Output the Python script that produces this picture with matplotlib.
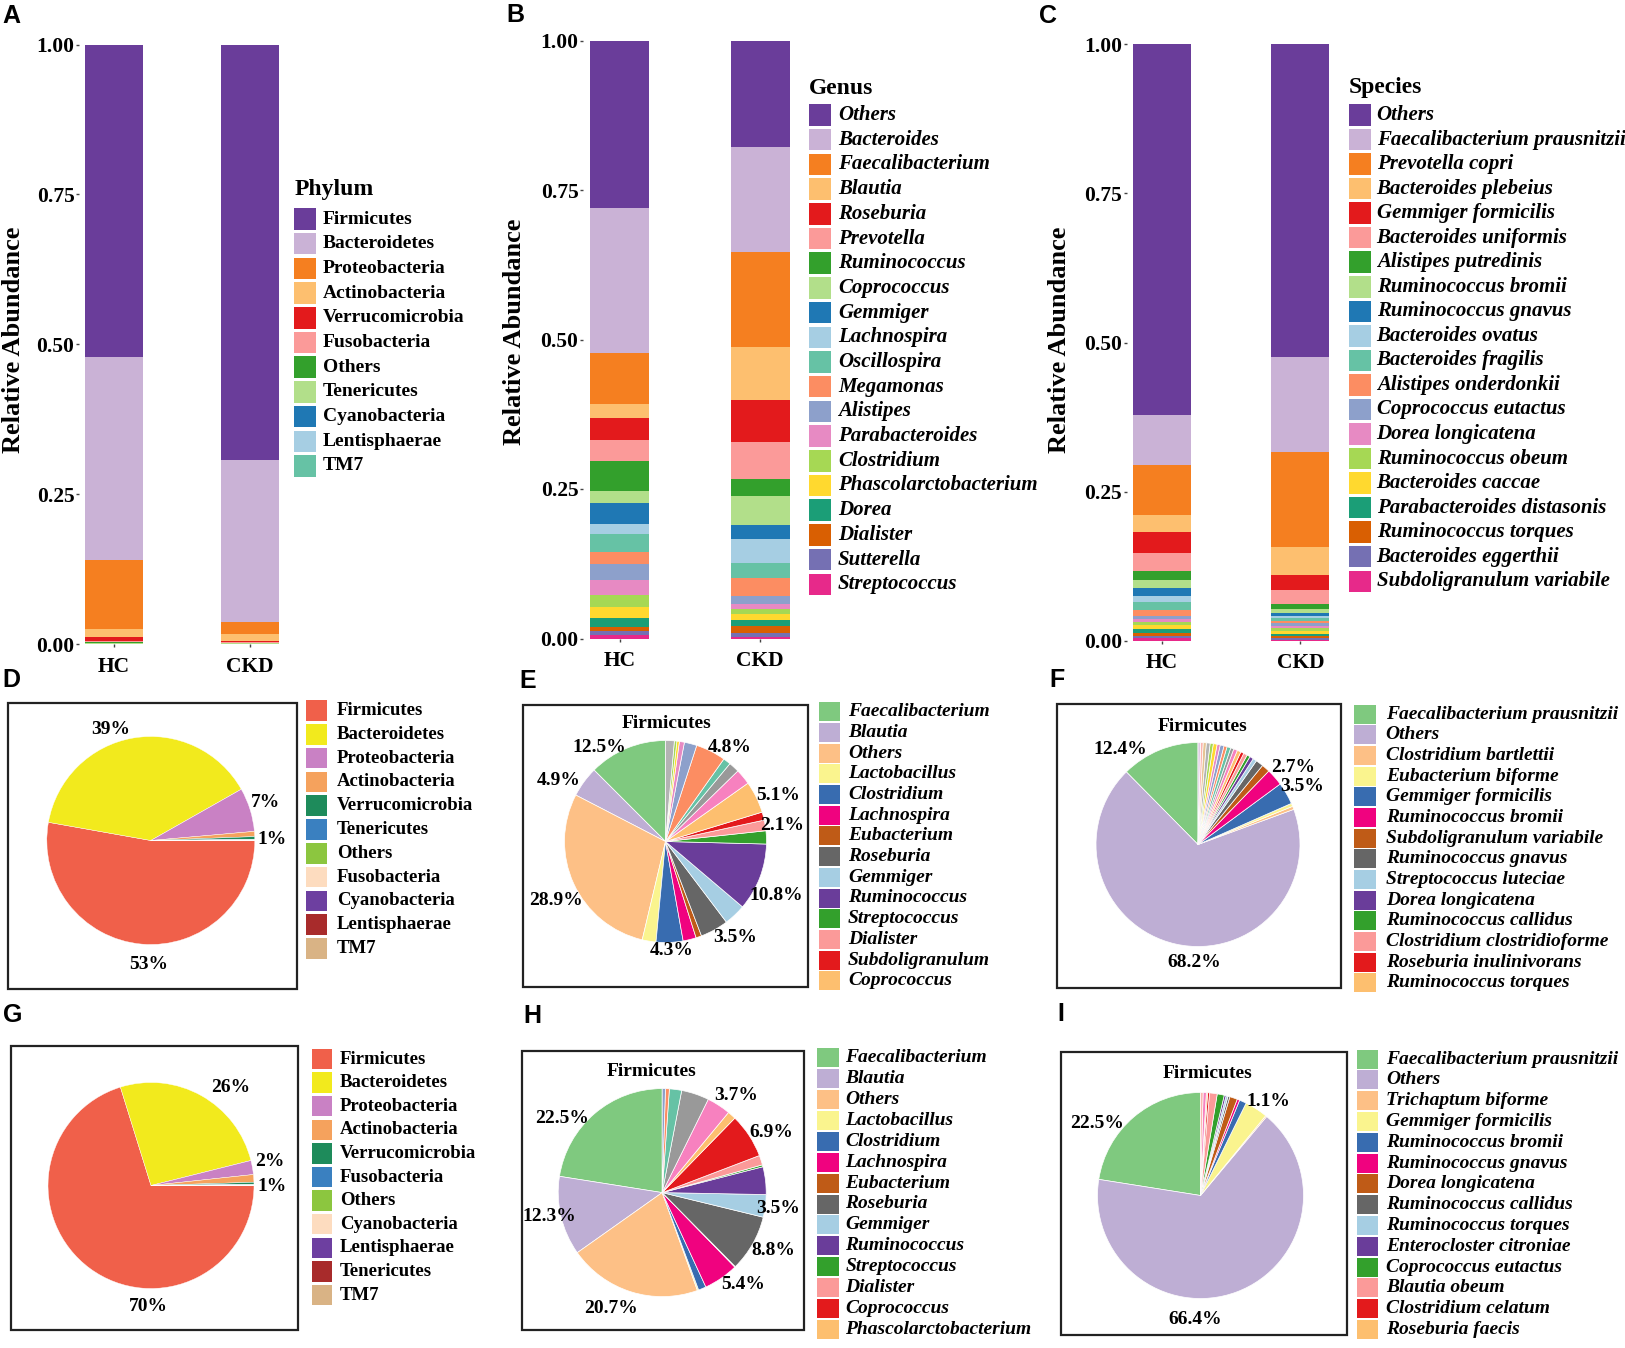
import matplotlib
matplotlib.use("Agg")
import matplotlib.pyplot as plt
from matplotlib.patches import Rectangle

# ---------------- data ----------------
groups = ["HC", "CKD"]

phylum_labels = ["Firmicutes", "Bacteroidetes", "Proteobacteria", "Actinobacteria",
                 "Verrucomicrobia", "Fusobacteria", "Others", "Tenericutes",
                 "Cyanobacteria", "Lentisphaerae", "TM7"]
phylum_hc = [0.521, 0.339, 0.115, 0.012, 0.008, 0.001, 0.002, 0.001, 0.0005, 0.0003, 0.0002]
phylum_ckd = [0.693, 0.270, 0.019, 0.012, 0.002, 0.001, 0.001, 0.001, 0.0005, 0.0003, 0.0002]

genus_labels = ["Others", "Bacteroides", "Faecalibacterium", "Blautia", "Roseburia",
                "Prevotella", "Ruminococcus", "Coprococcus", "Gemmiger", "Lachnospira",
                "Oscillospira", "Megamonas", "Alistipes", "Parabacteroides", "Clostridium",
                "Phascolarctobacterium", "Dorea", "Dialister", "Sutterella", "Streptococcus"]
genus_hc = [0.280, 0.242, 0.086, 0.024, 0.036, 0.036, 0.050, 0.019, 0.036, 0.016,
            0.031, 0.020, 0.026, 0.025, 0.020, 0.018, 0.015, 0.007, 0.007, 0.006]
genus_ckd = [0.178, 0.175, 0.159, 0.090, 0.070, 0.061, 0.028, 0.049, 0.024, 0.040,
             0.025, 0.030, 0.013, 0.009, 0.008, 0.010, 0.010, 0.012, 0.007, 0.002]

species_labels = ["Others", "Faecalibacterium prausnitzii", "Prevotella copri",
                  "Bacteroides plebeius", "Gemmiger formicilis", "Bacteroides uniformis",
                  "Alistipes putredinis", "Ruminococcus bromii", "Ruminococcus gnavus",
                  "Bacteroides ovatus", "Bacteroides fragilis", "Alistipes onderdonkii",
                  "Coprococcus eutactus", "Dorea longicatena", "Ruminococcus obeum",
                  "Bacteroides caccae", "Parabacteroides distasonis", "Ruminococcus torques",
                  "Bacteroides eggerthii", "Subdoligranulum variabile"]
species_hc = [0.622, 0.083, 0.084, 0.028, 0.036, 0.030, 0.014, 0.015, 0.013, 0.010,
              0.013, 0.010, 0.005, 0.005, 0.005, 0.007, 0.007, 0.005, 0.003, 0.005]
species_ckd = [0.524, 0.160, 0.159, 0.046, 0.025, 0.024, 0.009, 0.006, 0.005, 0.004,
               0.004, 0.004, 0.005, 0.004, 0.005, 0.005, 0.003, 0.003, 0.003, 0.002]

# pies (percent)
pie_d_labels = ["Firmicutes", "Bacteroidetes", "Proteobacteria", "Actinobacteria",
                "Verrucomicrobia", "Tenericutes", "Others", "Fusobacteria",
                "Cyanobacteria", "Lentisphaerae", "TM7"]
pie_d_values = [52.8, 39.0, 6.8, 0.8, 0.4, 0.1, 0.04, 0.03, 0.01, 0.01, 0.01]

pie_g_labels = ["Firmicutes", "Bacteroidetes", "Proteobacteria", "Actinobacteria",
                "Verrucomicrobia", "Fusobacteria", "Others", "Cyanobacteria",
                "Lentisphaerae", "Tenericutes", "TM7"]
pie_g_values = [70.2, 25.9, 2.2, 1.2, 0.3, 0.1, 0.05, 0.02, 0.01, 0.01, 0.01]

pie_e_labels = ["Faecalibacterium", "Blautia", "Others", "Lactobacillus", "Clostridium",
                "Lachnospira", "Eubacterium", "Roseburia", "Gemmiger", "Ruminococcus",
                "Streptococcus", "Dialister", "Subdoligranulum", "Coprococcus"]
pie_e_values = [12.5, 4.9, 28.9, 2.2, 4.3, 2.1, 0.9, 4.5, 3.5, 10.8, 2.1, 1.7, 1.3, 5.1]
pie_e_rest = [2.5, 1.7, 1.2, 4.8, 2.0, 0.8, 0.4, 0.4, 1.4]

pie_h_labels = ["Faecalibacterium", "Blautia", "Others", "Lactobacillus", "Clostridium",
                "Lachnospira", "Eubacterium", "Roseburia", "Gemmiger", "Ruminococcus",
                "Streptococcus", "Dialister", "Coprococcus", "Phascolarctobacterium"]
pie_h_values = [22.5, 12.3, 20.7, 0.2, 1.2, 5.4, 0.1, 8.8, 3.5, 4.3, 0.3, 1.5, 6.9, 1.3]
pie_h_rest = [3.7, 4.3, 1.9, 0.6, 0.5]

pie_f_labels = ["Faecalibacterium prausnitzii", "Others", "Clostridium bartlettii",
                "Eubacterium biforme", "Gemmiger formicilis", "Ruminococcus bromii",
                "Subdoligranulum variabile", "Ruminococcus gnavus", "Streptococcus luteciae",
                "Dorea longicatena", "Ruminococcus callidus", "Clostridium clostridioforme",
                "Roseburia inulinivorans", "Ruminococcus torques"]
pie_f_values = [12.4, 68.2, 0.5, 0.5, 3.5, 2.7, 1.3, 1.2, 0.6, 0.6, 0.5, 0.6, 0.5, 0.6]
pie_f_rest = [0.6, 0.5, 0.6, 0.5, 0.6, 0.5, 0.6, 0.5, 0.6, 0.5, 0.4, 0.4]

pie_i_labels = ["Faecalibacterium prausnitzii", "Others", "Trichaptum biforme",
                "Gemmiger formicilis", "Ruminococcus bromii", "Ruminococcus gnavus",
                "Dorea longicatena", "Ruminococcus callidus", "Ruminococcus torques",
                "Enterocloster citroniae", "Coprococcus eutactus", "Blautia obeum",
                "Clostridium celatum", "Roseburia faecis"]
pie_i_values = [22.5, 66.4, 0.2, 3.6, 1.1, 0.4, 1.2, 0.3, 0.3, 0.3, 1.1, 1.2, 0.3, 0.2]
pie_i_rest = [0.5, 0.4]

# ---------------- styles ----------------
bar_colors = ["#6A3D9A", "#CAB2D6", "#F57F20", "#FDBF6F", "#E31A1C", "#FB9A99",
              "#33A02C", "#B2DF8A", "#1F78B4", "#A6CEE3", "#66C2A5", "#FC8D62",
              "#8DA0CB", "#E78AC3", "#A6D854", "#FFD92F", "#1B9E77", "#D95F02",
              "#7570B3", "#E7298A"]
phy_pie_colors = ["#F0604A", "#F2EA1D", "#C981C4", "#F5A25D", "#1E8B5B", "#3A80C0",
                  "#8CC63F", "#FDDCBF", "#6D3FA0", "#A82B2B", "#D9B385"]
fir_colors = ["#7FC97F", "#BEAED4", "#FDC086", "#FAF48E", "#386CB0", "#F0027F",
              "#BF5B17", "#666666", "#A6CEE3", "#6A3D9A", "#33A02C", "#FB9A99",
              "#E31A1C", "#FDBF6F"]
rest_colors = ["#F781BF", "#999999", "#66C2A5", "#FC8D62", "#8DA0CB", "#E78AC3",
               "#FFD92F", "#A6D854", "#B3B3B3", "#E5C494", "#FBB4AE", "#DECBE4"]

W, H = 1625, 1348
fig = plt.figure(figsize=(W / 100, H / 100), dpi=100)
SERIF = "Liberation Serif"
SANS = "Liberation Sans"


def px_axes(left, top, width, height):
    return fig.add_axes([left / W, 1 - (top + height) / H, width / W, height / H])


ov = fig.add_axes([0, 0, 1, 1])
ov.set_xlim(0, W)
ov.set_ylim(H, 0)
ov.axis("off")


def btext(x, y, s, fs, italic=False, **kw):
    ov.text(x, y, s, fontsize=fs, fontfamily=SERIF, fontweight="bold",
            fontstyle="italic" if italic else "normal", **kw)


def bar_panel(left, top, bottom, c1, c2, labels, hc, ckd, colors):
    scale = c2 - c1
    right = c2 + 45
    ax = px_axes(left, top, right - left, bottom - top)
    n = len(labels)
    for g, vals in enumerate([hc, ckd]):
        base = 0.0
        for i in reversed(range(n)):
            ax.bar(g + 1, vals[i], bottom=base, width=0.42, color=colors[i], linewidth=0)
            base += vals[i]
    ax.set_xlim(1 - (c1 - left) / scale, 2 + (right - c2) / scale)
    ax.set_ylim(0, 1)
    for s in ax.spines.values():
        s.set_visible(False)
    ax.patch.set_alpha(0)
    ax.set_xticks([1, 2])
    ax.set_xticklabels(groups, fontfamily=SERIF, fontweight="bold", fontsize=15.5)
    ticks = [0, 0.25, 0.5, 0.75, 1.0]
    ax.set_yticks(ticks)
    ax.set_yticklabels([f"{t:.2f}" for t in ticks], fontfamily=SERIF,
                       fontweight="bold", fontsize=15.5)
    ax.tick_params(length=2.5, width=1, color="#444444")
    ax.tick_params(axis="y", pad=0.8)
    ax.tick_params(axis="x", pad=6.5)
    return ax


def draw_legend(xk, y0, dy, kw, kh, xt, labels, colors, fs, italic):
    for i, (lab, c) in enumerate(zip(labels, colors)):
        y = y0 + i * dy
        ov.add_patch(Rectangle((xk, y - kh / 2), kw, kh, facecolor=c, edgecolor="none"))
        btext(xt, y, lab, fs, italic=italic, ha="left", va="center")


def pie_panel(cx, cy, r, values, colors, start, ccw, lw, labels_at, fmt):
    k = 1.02
    ax = px_axes(cx - r * k, cy - r * k, 2 * r * k, 2 * r * k)
    ax.pie(values, colors=colors, startangle=start, counterclock=ccw, radius=1,
           wedgeprops=dict(edgecolor="white", linewidth=lw))
    ax.set_xlim(-k, k)
    ax.set_ylim(-k, k)
    ax.set_aspect("auto")
    ax.axis("off")
    for idx, (dx, dy) in labels_at.items():
        ax.text(dx, dy, fmt.format(values[idx]), ha="center", va="center",
                fontsize=14, fontfamily=SERIF, fontweight="bold", clip_on=False)


def box(x0, y0, x1, y1):
    ov.add_patch(Rectangle((x0, y0), x1 - x0, y1 - y0, fill=False,
                           edgecolor="#222222", linewidth=1.6))


# ---------------- A, B, C ----------------
bar_panel(79, 44.5, 644.3, 114, 250, phylum_labels, phylum_hc, phylum_ckd, bar_colors)
bar_panel(583, 40.5, 638.5, 619.7, 760.2, genus_labels, genus_hc, genus_ckd, bar_colors)
bar_panel(1126.7, 44, 641, 1161.7, 1300.3, species_labels, species_hc, species_ckd, bar_colors)

for x, y in [(13.3, 340), (514.4, 332), (1060, 340)]:
    btext(x, y, "Relative Abundance", 19, rotation=90, ha="center", va="center")

btext(295, 190, "Phylum", 17, ha="left", va="center")
draw_legend(294, 219, 24.7, 22, 21.5, 322.7, phylum_labels, bar_colors, 14, False)
btext(809, 88.4, "Genus", 17, ha="left", va="center")
draw_legend(809, 115, 24.7, 21.5, 21.5, 838, genus_labels, bar_colors, 15, True)
btext(1349, 87.5, "Species", 17, ha="left", va="center")
draw_legend(1349, 115, 24.54, 22, 21.5, 1376.6, species_labels, bar_colors, 15, True)

# ---------------- D, E, F ----------------
box(8.3, 702.7, 296.7, 988.5)
pie_panel(150.8, 840.5, 104, pie_d_values, phy_pie_colors, 0, False, 0.3,
          {1: (-0.383, 1.063), 2: (1.10, 0.363), 3: (1.163, 0.005), 0: (-0.017, -1.197)},
          "{:.0f}%")
draw_legend(306, 710.7, 23.76, 21.3, 20.5, 336.7, pie_d_labels, phy_pie_colors, 13.5, False)

box(522.7, 705, 807.5, 986.7)
btext(666.7, 723.3, "Firmicutes", 14, ha="center", va="center")
pie_panel(665.5, 841.5, 101, pie_e_values + pie_e_rest,
          fir_colors + rest_colors[:len(pie_e_rest)], 90, True, 0.5,
          {0: (-0.655, 0.933), 1: (-1.054, 0.602), 2: (-1.084, -0.586),
           4: (0.061, -1.081), 8: (0.688, -0.949), 9: (1.101, -0.530),
           10: (1.150, 0.163), 13: (1.117, 0.460), 17: (0.639, 0.933)},
          "{:.1f}%")
draw_legend(819, 711.7, 20.7, 20.6, 19, 848, pie_e_labels, fir_colors, 14, True)

box(1056.7, 704.3, 1341.4, 988.3)
btext(1202.3, 726.7, "Firmicutes", 14, ha="center", va="center")
pie_panel(1198, 844.5, 102, pie_f_values + pie_f_rest,
          fir_colors + rest_colors[:len(pie_f_rest)], 90, True, 0.5,
          {0: (-0.765, 0.933), 1: (-0.036, -1.159), 5: (0.934, 0.757), 4: (1.017, 0.567)},
          "{:.1f}%")
draw_legend(1354.3, 714.3, 20.65, 21.2, 19, 1385.7, pie_f_labels, fir_colors, 14, True)

# ---------------- G, H, I ----------------
box(10.7, 1046, 297.7, 1330)
pie_panel(151, 1185.5, 103, pie_g_values, phy_pie_colors, 0, False, 0.3,
          {1: (0.774, 0.950), 2: (1.149, 0.231), 3: (1.172, -0.012), 0: (-0.026, -1.177)},
          "{:.0f}%")
draw_legend(311.7, 1059, 23.6, 20.6, 20.5, 340, pie_g_labels, phy_pie_colors, 13.5, False)

box(521.7, 1050.7, 804, 1330)
btext(651.8, 1071, "Firmicutes", 14, ha="center", va="center")
pie_panel(662.2, 1192.6, 104, pie_h_values + pie_h_rest,
          fir_colors + rest_colors[:len(pie_h_rest)], 90, True, 0.5,
          {0: (-0.967, 0.714), 1: (-1.087, -0.225), 2: (-0.497, -1.112),
           5: (0.777, -0.888), 7: (1.065, -0.559), 8: (1.119, -0.151),
           12: (1.053, 0.576), 14: (0.712, 0.929)},
          "{:.1f}%")
draw_legend(817, 1057.7, 20.9, 21.5, 19, 845.4, pie_h_labels, fir_colors, 14, True)

box(1061, 1051.7, 1346.5, 1335)
btext(1207.3, 1073.3, "Firmicutes", 14, ha="center", va="center")
pie_panel(1200.5, 1195.5, 103, pie_i_values + pie_i_rest,
          fir_colors + [rest_colors[0], rest_colors[10]], 90, True, 0.5,
          {0: (-1.008, 0.701), 4: (0.658, 0.911), 1: (-0.053, -1.202)},
          "{:.1f}%")
draw_legend(1357, 1059, 20.8, 20.8, 19, 1386.5, pie_i_labels, fir_colors, 14, True)

# ---------------- panel letters ----------------
for s, x, y in [("A", 11, 16), ("B", 515, 15), ("C", 1048, 16), ("D", 11, 680),
                ("E", 528, 681), ("F", 1057, 680), ("G", 13, 1015), ("H", 532, 1016),
                ("I", 1061, 1014)]:
    ov.text(x, y, s, fontsize=18, fontfamily=SANS, fontweight="bold", ha="center", va="center")

fig.savefig("out.png", dpi=100)
